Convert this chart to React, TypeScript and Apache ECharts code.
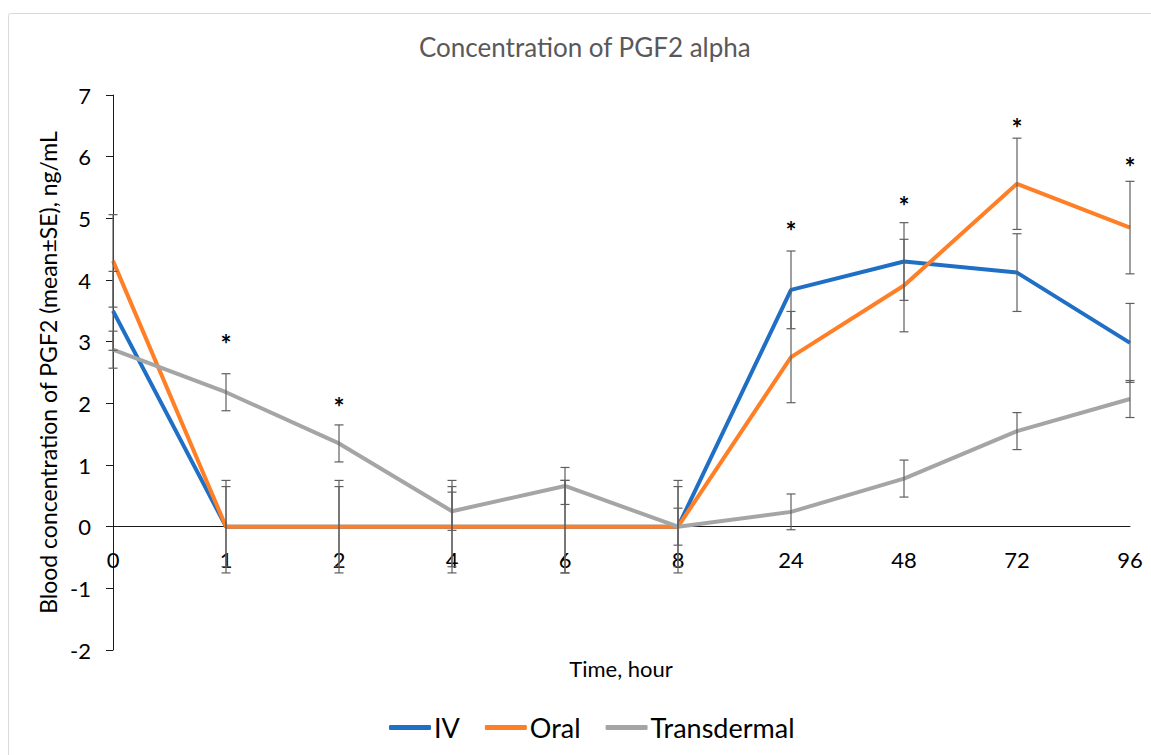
import React, { useEffect, useRef } from "react";
import * as echarts from "echarts";

const categories = ["0", "1", "2", "4", "6", "8", "24", "48", "72", "96"];
const ivValues = [3.5, 0, 0, 0, 0, 0, 3.84, 4.3, 4.12, 2.98];
const ivSE = [0.64, 0.75, 0.75, 0.75, 0.75, 0.75, 0.63, 0.63, 0.63, 0.64];
const oralValues = [4.31, 0, 0, 0, 0, 0, 2.75, 3.91, 5.56, 4.85];
const oralSE = [0.75, 0.65, 0.65, 0.65, 0.75, 0.65, 0.74, 0.75, 0.74, 0.75];
const transValues = [2.87, 2.18, 1.35, 0.25, 0.66, 0, 0.24, 0.78, 1.55, 2.07];
const transSE = [0.3, 0.3, 0.3, 0.31, 0.3, 0.3, 0.29, 0.3, 0.3, 0.3];
// significance markers: [category index, value level]
const starIdx = [1, 2, 6, 7, 8, 9];
const starLevels = [3.06, 2.04, 4.9, 5.29, 6.57, 5.93];
const yTicks = { min: -2, max: 7, interval: 1 };

const FONT = "Lato";

export default function App() {
  const ref = useRef<HTMLDivElement>(null);
  useEffect(() => {
    if (!ref.current) return;
    const chart = echarts.init(ref.current, null, { renderer: "svg" });
    const errData: number[][] = [];
    const add = (vals: number[], se: number[]) =>
      vals.forEach((v, i) => errData.push([i, v - se[i], v + se[i]]));
    add(ivValues, ivSE);
    add(oralValues, oralSE);
    add(transValues, transSE);
    const starData = starIdx.map((c, i) => [c, starLevels[i]]);
    const catLabelData = categories.map((c, i) => [i, 0, c]);

    chart.setOption({
      animation: false,
      backgroundColor: "#fff",
      title: {
        text: "Concentration of PGF2 alpha",
        left: 414,
        top: 29,
        textStyle: { fontFamily: FONT, fontSize: 26, fontWeight: "normal", color: "#595959" },
      },
      graphic: [
        {
          type: "rect",
          shape: { x: 8.5, y: 13.5, width: 1300, height: 900, r: 2 },
          style: { fill: "none", stroke: "#d9d9d9", lineWidth: 1 },
          silent: true,
          z: -10,
        },
        {
          type: "text",
          x: 621,
          y: 668,
          style: {
            text: "Time, hour",
            fontFamily: FONT,
            fontSize: 22,
            fill: "#000",
            align: "center",
            verticalAlign: "middle",
          },
        },
      ],
      legend: {
        data: ["IV", "Oral", "Transdermal"],
        left: 384,
        top: 709,
        icon: "roundRect",
        itemWidth: 42,
        itemHeight: 5,
        itemGap: 25,
        textStyle: { fontFamily: FONT, fontSize: 27, color: "#000", padding: [0, 0, 0, -2] },
      },
      grid: { left: 113, right: 21, top: 95, bottom: 105, containLabel: false, outerBoundsMode: "none" },
      xAxis: {
        type: "category",
        data: categories,
        boundaryGap: false,
        axisLine: { onZero: true, lineStyle: { color: "#1a1a1a", width: 1 } },
        axisTick: { show: false },
        axisLabel: { show: false },
      },
      yAxis: {
        type: "value",
        min: yTicks.min,
        max: yTicks.max,
        interval: yTicks.interval,
        splitLine: { show: false },
        axisLine: { show: true, lineStyle: { color: "#1a1a1a", width: 1 } },
        axisTick: { show: true, length: 7, lineStyle: { color: "#1a1a1a" } },
        axisLabel: { fontFamily: FONT, fontSize: 22, color: "#000", margin: 22 },
        name: "Blood concentration of PGF2 (mean±SE), ng/mL",
        nameLocation: "middle",
        nameGap: 54,
        nameTextStyle: { fontFamily: FONT, fontSize: 23, color: "#000" },
      },
      series: [
        {
          name: "IV",
          type: "line",
          data: ivValues,
          symbol: "none",
          lineStyle: { color: "#1F6FC5", width: 4 },
          itemStyle: { color: "#1F6FC5" },
          z: 2,
        },
        {
          name: "Oral",
          type: "line",
          data: oralValues,
          symbol: "none",
          lineStyle: { color: "#FF7F27", width: 4 },
          itemStyle: { color: "#FF7F27" },
          z: 2,
        },
        {
          name: "Transdermal",
          type: "line",
          data: transValues,
          symbol: "none",
          lineStyle: { color: "#A5A5A5", width: 4 },
          itemStyle: { color: "#A5A5A5" },
          z: 2,
        },
        {
          type: "custom",
          data: errData,
          z: 3,
          silent: true,
          renderItem: (params: any, api: any) => {
            const lo = api.coord([api.value(0), api.value(1)]);
            const hi = api.coord([api.value(0), api.value(2)]);
            const w = 4.5;
            const st = { stroke: "#5f5f5f", lineWidth: 1.2 };
            return {
              type: "group",
              children: [
                { type: "line", shape: { x1: lo[0], y1: lo[1], x2: hi[0], y2: hi[1] }, style: st },
                { type: "line", shape: { x1: lo[0] - w, y1: lo[1], x2: lo[0] + w, y2: lo[1] }, style: st },
                { type: "line", shape: { x1: hi[0] - w, y1: hi[1], x2: hi[0] + w, y2: hi[1] }, style: st },
              ],
            };
          },
        },
        {
          type: "custom",
          data: starData,
          z: 4,
          silent: true,
          renderItem: (params: any, api: any) => {
            const p = api.coord([api.value(0), api.value(1)]);
            return {
              type: "text",
              x: p[0],
              y: p[1] + 6,
              style: {
                text: "*",
                fontFamily: FONT,
                fontSize: 26,
                fontWeight: "bold",
                fill: "#000",
                align: "center",
                verticalAlign: "middle",
              },
            };
          },
        },
        {
          type: "custom",
          data: catLabelData,
          z: 1,
          silent: true,
          renderItem: (params: any, api: any) => {
            const idx = params.dataIndex;
            const p = api.coord([api.value(0), api.value(1)]);
            return {
              type: "text",
              x: p[0],
              y: p[1] + 33,
              style: {
                text: categories[idx],
                fontFamily: FONT,
                fontSize: 22,
                fill: "#000",
                align: "center",
                verticalAlign: "middle",
              },
            };
          },
        },
      ],
    });
    return () => chart.dispose();
  }, []);
  return (
    <div
      ref={ref}
      style={{ position: "fixed", left: 0, top: 0, width: 1151, height: 755 }}
    />
  );
}
